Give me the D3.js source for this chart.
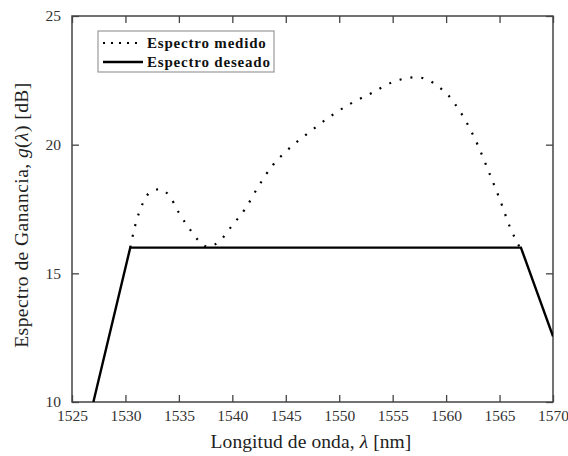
<!DOCTYPE html>
<html>
<head>
<meta charset="utf-8">
<script src="https://cdn.jsdelivr.net/npm/d3@7"></script>
<style>
  body { margin: 0; background: #fff; }
</style>
</head>
<body>
<div id="chart"></div>
<script>
// measured gain spectrum (dotted)
const measuredWl = [1530.45, 1530.9, 1531.6, 1532.2, 1533.2, 1534.1, 1535.0, 1536.0, 1536.8, 1537.7,
  1538.8, 1540.0, 1541.2, 1542.4, 1543.8, 1545.0, 1547.0, 1549.0, 1551.0, 1553.0, 1555.0,
  1557.2, 1558.2, 1559.2, 1560.2, 1561.0, 1562.0, 1563.0, 1564.0, 1565.0, 1566.0, 1566.9];
const measuredGain = [16.0, 16.84, 17.7, 18.11, 18.27, 18.02, 17.35, 16.73, 16.29, 16.03,
  16.25, 16.87, 17.5, 18.35, 19.21, 19.73, 20.42, 21.05, 21.58, 22.0, 22.43,
  22.62, 22.54, 22.28, 21.92, 21.48, 20.8, 19.95, 18.94, 17.9, 16.77, 16.0];

// desired gain spectrum (solid)
const desiredWl = [1527.0, 1530.45, 1567.0, 1570.0];
const desiredGain = [10.0, 16.0, 16.0, 12.55];

const xTicks = [1525, 1530, 1535, 1540, 1545, 1550, 1555, 1560, 1565, 1570];
const yTicks = [10, 15, 20, 25];
const legendLabels = ["Espectro medido", "Espectro deseado"];

const W = 568, H = 456;
const margin = {top: 16, right: 15, bottom: 54, left: 72};
const width = W - margin.left - margin.right,
      height = H - margin.top - margin.bottom;
const serif = "'Liberation Serif', 'Times New Roman', Times, 'DejaVu Serif', serif";

const svg = d3.select("#chart").append("svg")
    .attr("width", W)
    .attr("height", H)
    .attr("font-family", serif);

const g = svg.append("g")
    .attr("transform", "translate(" + margin.left + "," + margin.top + ")");

const x = d3.scaleLinear().domain([1525, 1570]).range([0, width]);
const y = d3.scaleLinear().domain([10, 25]).range([height, 0]);

const axisColor = "#444";
const labelColor = "#333";

// clip so lines stay inside the frame
g.append("clipPath").attr("id", "clip")
  .append("rect").attr("width", width).attr("height", height);

// axes with inward ticks on all four sides
const tickLen = 7;
const axB = g.append("g").attr("transform", "translate(0," + height + ")")
  .call(d3.axisBottom(x).tickValues(xTicks).tickSizeInner(-tickLen).tickSizeOuter(0).tickPadding(5).tickFormat(d3.format("d")));
const axT = g.append("g")
  .call(d3.axisTop(x).tickValues(xTicks).tickSizeInner(-tickLen).tickSizeOuter(0).tickFormat(""));
const axL = g.append("g")
  .call(d3.axisLeft(y).tickValues(yTicks).tickSizeInner(-tickLen).tickSizeOuter(0).tickPadding(11).tickFormat(d3.format("d")));
const axR = g.append("g").attr("transform", "translate(" + width + ",0)")
  .call(d3.axisRight(y).tickValues(yTicks).tickSizeInner(-tickLen).tickSizeOuter(0).tickFormat(""));

[axB, axT, axL, axR].forEach(a => {
  a.attr("font-family", serif).attr("font-size", 15.5);
  a.selectAll(".domain").remove();
  a.selectAll("line").attr("stroke", axisColor).attr("stroke-width", 1.3);
  a.selectAll("text").attr("fill", labelColor);
});
axB.selectAll("text").attr("dy", "0.9em");

// plot frame
g.append("rect")
  .attr("width", width).attr("height", height)
  .attr("fill", "none").attr("stroke", axisColor).attr("stroke-width", 1.5);

const measured = measuredWl.map((d, i) => [d, measuredGain[i]]);
const desired = desiredWl.map((d, i) => [d, desiredGain[i]]);

const curve = d3.line()
  .x(d => x(d[0])).y(d => y(d[1]))
  .curve(d3.curveMonotoneX);
const straight = d3.line()
  .x(d => x(d[0])).y(d => y(d[1]));

const plot = g.append("g").attr("clip-path", "url(#clip)");

plot.append("path")
  .datum(measured)
  .attr("d", curve)
  .attr("fill", "none")
  .attr("stroke", "#000")
  .attr("stroke-width", 2.2)
  .attr("stroke-dasharray", "2,9");

plot.append("path")
  .datum(desired)
  .attr("d", straight)
  .attr("fill", "none")
  .attr("stroke", "#000")
  .attr("stroke-width", 2.4);

// legend
const lg = svg.append("g").attr("transform", "translate(98,31)");
lg.append("rect")
  .attr("width", 176).attr("height", 41)
  .attr("fill", "#fff").attr("stroke", "#999").attr("stroke-width", 1.2);

const styles = [
  {dash: "2,6", sw: 2.2},
  {dash: null, sw: 2.4}
];
legendLabels.forEach((lab, i) => {
  const yy = 12 + i * 19;
  lg.append("line")
    .attr("x1", 5).attr("x2", 45).attr("y1", yy).attr("y2", yy)
    .attr("stroke", "#000").attr("stroke-width", styles[i].sw)
    .attr("stroke-dasharray", styles[i].dash);
  lg.append("text")
    .attr("x", 49).attr("y", yy).attr("dy", "0.35em")
    .attr("font-family", serif)
    .attr("font-size", 15).attr("font-weight", "bold")
    .attr("letter-spacing", 0.8)
    .attr("fill", "#111")
    .text(lab);
});

// axis titles
const xt = svg.append("text")
  .attr("x", 311).attr("y", 448)
  .attr("text-anchor", "middle")
  .attr("font-family", serif)
  .attr("font-size", 19.5).attr("letter-spacing", 0.1).attr("fill", "#222");
xt.append("tspan").text("Longitud de onda, ");
xt.append("tspan").attr("font-style", "italic").text("λ");
xt.append("tspan").text(" [nm]");

const yt = svg.append("text")
  .attr("transform", "translate(28,215) rotate(-90)")
  .attr("text-anchor", "middle")
  .attr("font-family", serif)
  .attr("font-size", 19.5).attr("letter-spacing", 0.45).attr("fill", "#222");
yt.append("tspan").text("Espectro de Ganancia, ");
yt.append("tspan").attr("font-style", "italic").text("g");
yt.append("tspan").text("(");
yt.append("tspan").attr("font-style", "italic").text("λ");
yt.append("tspan").text(") [dB]");
</script>
</body>
</html>
